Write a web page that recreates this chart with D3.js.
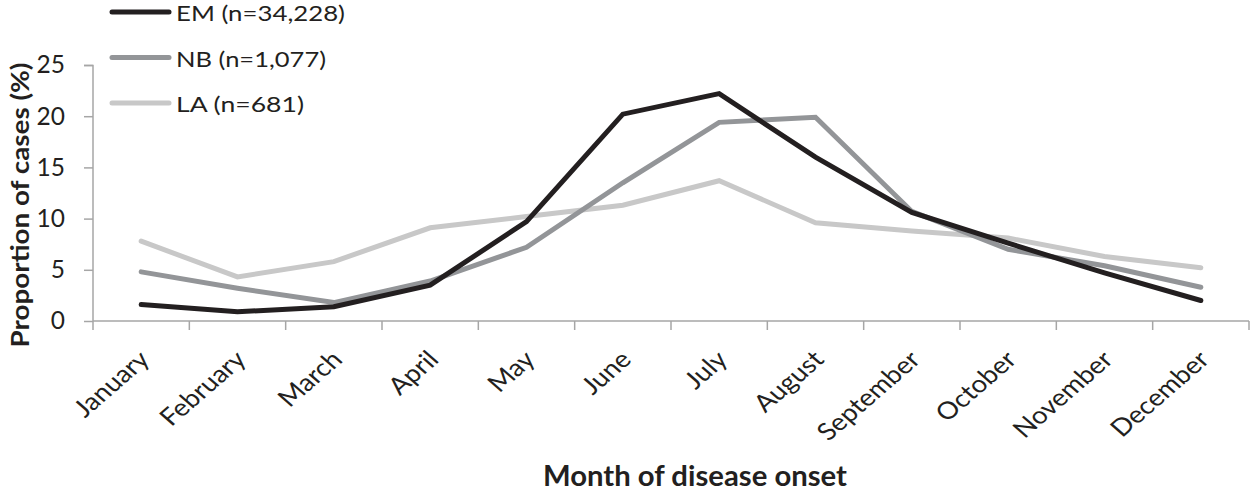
<!DOCTYPE html>
<html>
<head>
<meta charset="utf-8">
<script src="https://cdn.jsdelivr.net/npm/d3@7"></script>
<style>
  body { margin: 0; background: #fff; }
  svg { display: block; font-family: Lato, "Open Sans", sans-serif; }
</style>
</head>
<body>
<svg id="chart" width="1251" height="495"></svg>
<script>
// data
const months = ['January', 'February', 'March', 'April', 'May', 'June', 'July',
  'August', 'September', 'October', 'November', 'December'];
const emValues = [1.6, 0.9, 1.4, 3.5, 9.7, 20.2, 22.2, 16.0, 10.6, 7.6, 4.7, 2.0];
const nbValues = [4.8, 3.2, 1.8, 3.9, 7.2, 13.5, 19.4, 19.9, 10.7, 7.0, 5.4, 3.3];
const laValues = [7.8, 4.3, 5.8, 9.1, 10.2, 11.3, 13.7, 9.6, 8.8, 8.1, 6.3, 5.2];
const seriesNames = ['EM (n=34,228)', 'NB (n=1,077)', 'LA (n=681)'];
const seriesColors = ['#231f20', '#939598', '#c8c8c8'];
const yTicks = [0, 5, 10, 15, 20, 25];

const series = [emValues, nbValues, laValues].map((v, i) => ({
  name: seriesNames[i], color: seriesColors[i], values: v
}));

const svg = d3.select('#chart');
const margin = { top: 65, right: 2, bottom: 174, left: 93 };
const width = 1251, height = 495;
const plotWidth = width - margin.left - margin.right;
const plotHeight = height - margin.top - margin.bottom;
const textColor = '#231f20';
const axisColor = '#a6a6a6';

const g = svg.append('g').attr('transform', `translate(${margin.left},${margin.top})`);

const x = d3.scaleBand().domain(months).range([0, plotWidth]);
const y = d3.scaleLinear().domain([0, 25]).range([plotHeight, 0]);

// y axis
const yAxis = g.append('g').call(d3.axisLeft(y).tickValues(yTicks).tickSize(9).tickPadding(19));
yAxis.selectAll('line').attr('stroke', axisColor).attr('stroke-width', 1.5);
yAxis.select('.domain').attr('stroke', axisColor).attr('stroke-width', 1.5).attr('d', `M-9,0.5H0V${plotHeight}`);
yAxis.selectAll('text').attr('font-size', 24.5).attr('fill', textColor).attr('font-family', 'Lato, sans-serif');

// x axis, ticks on band edges
const xAxisG = g.append('g').attr('transform', `translate(0,${plotHeight})`);
xAxisG.append('line').attr('x1', 0).attr('x2', plotWidth)
  .attr('stroke', axisColor).attr('stroke-width', 1.5);
const bounds = months.map(m => x(m)).concat([x(months[months.length - 1]) + x.bandwidth()]);
xAxisG.selectAll('.tk').data(bounds).enter().append('line')
  .attr('x1', d => d).attr('x2', d => d).attr('y1', 0).attr('y2', 9)
  .attr('stroke', axisColor).attr('stroke-width', 1.5);
xAxisG.selectAll('.lbl').data(months).enter().append('text')
  .attr('transform', d => `translate(${x(d) + x.bandwidth() / 2 + 10},${40}) scale(1.15,1) rotate(-45)`)
  .attr('text-anchor', 'end')
  .attr('font-size', 24)
  .attr('fill', textColor)
  .text(d => d);

// lines
const line = d3.line()
  .x((d, i) => x(months[i]) + x.bandwidth() / 2)
  .y(d => y(d));

g.selectAll('.series').data(series.slice().reverse()).enter().append('path')
  .attr('d', d => line(d.values))
  .attr('fill', 'none')
  .attr('stroke', d => d.color)
  .attr('stroke-width', 5)
  .attr('stroke-linecap', 'round')
  .attr('stroke-linejoin', 'miter');

// legend
const legendLen = [169, 150, 128];
const legend = svg.append('g');
series.forEach((s, i) => {
  const ly = 12 + i * 45.5;
  legend.append('line').attr('x1', 112).attr('x2', 169).attr('y1', ly).attr('y2', ly)
    .attr('stroke', s.color).attr('stroke-width', 5).attr('stroke-linecap', 'round');
  legend.append('text').attr('x', 176).attr('y', ly + 9)
    .attr('font-size', 22).attr('fill', textColor)
    .attr('textLength', legendLen[i]).attr('lengthAdjust', 'spacingAndGlyphs')
    .text(s.name);
});

// axis titles
svg.append('text')
  .attr('transform', `translate(29,205) rotate(-90)`)
  .attr('text-anchor', 'middle')
  .attr('font-size', 25).attr('font-weight', 'bold').attr('fill', textColor)
  .attr('textLength', 285).attr('lengthAdjust', 'spacingAndGlyphs')
  .text('Proportion of cases (%)');

svg.append('text')
  .attr('x', 695).attr('y', 486)
  .attr('text-anchor', 'middle')
  .attr('font-size', 28).attr('font-weight', 'bold').attr('fill', textColor)
  .attr('textLength', 304).attr('lengthAdjust', 'spacingAndGlyphs')
  .text('Month of disease onset');
</script>
</body>
</html>
